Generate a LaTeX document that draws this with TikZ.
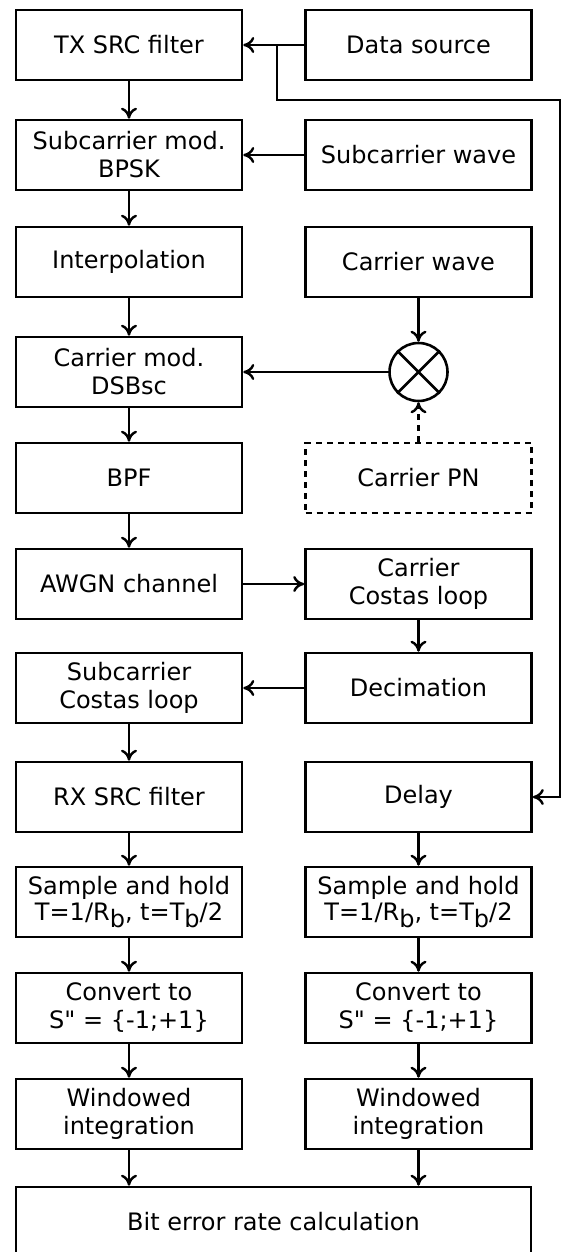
\documentclass[tikz,border=0pt]{standalone}
\usepackage{fontspec}
\setmainfont{DejaVu Sans}
\usetikzlibrary{arrows.meta}
\newcommand{\sbx}[1]{\raisebox{-0.32em}{#1}}
\newcommand{\dq}{\XeTeXglyph\the\XeTeXcharglyph"22\relax}
\begin{document}
\begin{tikzpicture}[x=1pt,y=-1pt,
  blk/.style={draw, line width=2.6pt, minimum width=226pt, minimum height=70pt, inner sep=0pt, align=center, font=\fontsize{24}{28}\selectfont},
  shblk/.style={blk, font=\fontsize{24}{26}\selectfont},
  conn/.style={line width=2.4pt, -{To[length=11pt,width=16pt]}},
  pnline/.style={conn, dash pattern=on 6pt off 5pt},
  ]
\useasboundingbox (0,0) rectangle (562,1252);
\node[blk] (tx) at (129,45) {TX SRC filter};
\node[blk] (ds) at (418.5,45) {Data source};
\node[blk] (scm) at (129,155) {Subcarrier mod.\\BPSK};
\node[blk] (scw) at (418.5,155) {Subcarrier wave};
\node[blk] (ip) at (129,262) {Interpolation};
\node[blk] (cw) at (418.5,262) {Carrier wave};
\node[blk] (cm) at (129,372) {Carrier mod.\\DSBsc};
\node[circle, draw, line width=2.6pt, minimum size=58pt, inner sep=0pt] (mx) at (418.5,372) {};
\draw[line width=2.6pt] (mx.45) -- (mx.225) (mx.135) -- (mx.315);
\node[blk, dash pattern=on 6pt off 5pt] (pn) at (418.5,478) {Carrier PN};
\node[blk] (bpf) at (129,478) {BPF};
\node[blk] (awgn) at (129,584) {AWGN channel};
\node[blk] (ccl) at (418.5,584) {Carrier\\Costas loop};
\node[blk] (scl) at (129,688) {Subcarrier\\Costas loop};
\node[blk] (dec) at (418.5,688) {Decimation};
\node[blk] (rx) at (129,797) {RX SRC filter};
\node[blk] (dl) at (418.5,797) {Delay};
\node[shblk] (sh1) at (129,902) {Sample and hold\\T=1/R\sbx{b}, t=T\sbx{b}/2};
\node[shblk] (sh2) at (418.5,902) {Sample and hold\\T=1/R\sbx{b}, t=T\sbx{b}/2};
\node[blk] (cv1) at (129,1008) {Convert to\\S\dq{} = \{-1;+1\}};
\node[blk] (cv2) at (418.5,1008) {Convert to\\S\dq{} = \{-1;+1\}};
\node[blk] (wi1) at (129,1114) {Windowed\\integration};
\node[blk] (wi2) at (418.5,1114) {Windowed\\integration};
\node[blk, minimum width=515pt] (ber) at (273.5,1222) {Bit error rate calculation};
% connectors
\draw[conn] (ds) -- (tx);
\coordinate (br) at (277,45);
\coordinate (c1) at (277,100);
\coordinate (c2) at (560,100);
\coordinate (c3) at (560,797);
\draw[conn] (br) -- (c1) -- (c2) -- (c3) -- (dl);
\draw[conn] (tx) -- (scm);
\draw[conn] (scw) -- (scm);
\draw[conn] (scm) -- (ip);
\draw[conn] (ip) -- (cm);
\draw[conn] (cw) -- (mx);
\draw[conn] (mx) -- (cm);
\draw[pnline] (pn) -- (mx);
\draw[conn] (cm) -- (bpf);
\draw[conn] (bpf) -- (awgn);
\draw[conn] (awgn) -- (ccl);
\draw[conn] (ccl) -- (dec);
\draw[conn] (dec) -- (scl);
\draw[conn] (scl) -- (rx);
\draw[conn] (rx) -- (sh1);
\draw[conn] (sh1) -- (cv1);
\draw[conn] (cv1) -- (wi1);
\draw[conn] (wi1) -- (wi1 |- ber.north);
\draw[conn] (dl) -- (sh2);
\draw[conn] (sh2) -- (cv2);
\draw[conn] (cv2) -- (wi2);
\draw[conn] (wi2) -- (wi2 |- ber.north);
\end{tikzpicture}
\end{document}
